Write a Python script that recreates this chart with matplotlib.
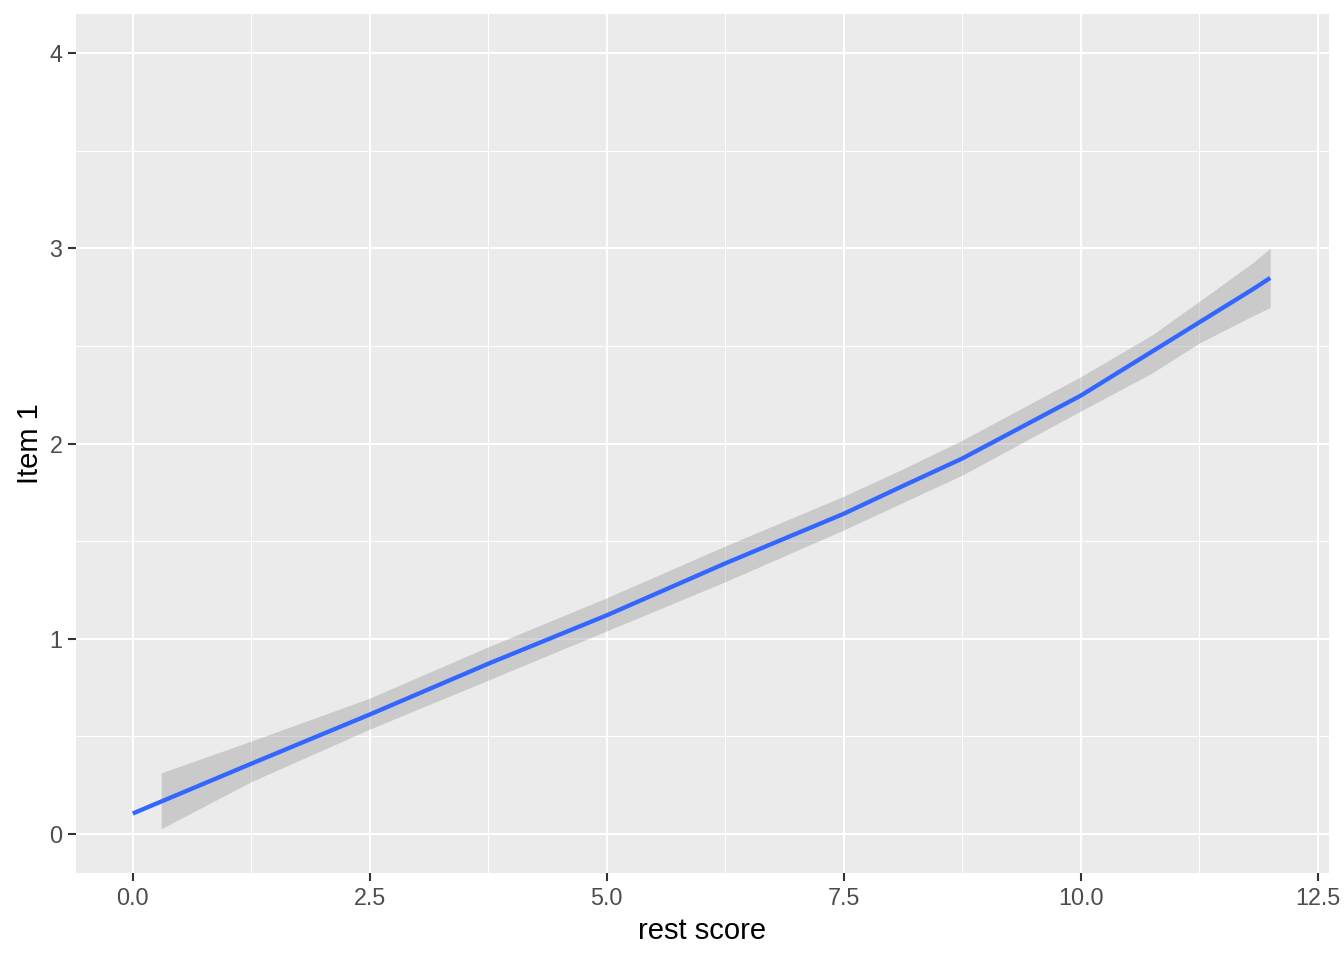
import matplotlib
matplotlib.use("Agg")
import matplotlib.pyplot as plt
from matplotlib.ticker import MultipleLocator

plt.rcParams['font.family'] = ['Liberation Sans', 'DejaVu Sans']

# fitted curve
line_x = [0, 1.25, 2.5, 3.75, 5, 6.25, 7.5, 8.1, 8.75, 10, 10.75, 11.25, 11.8, 12]
line_y = [0.105, 0.36, 0.612, 0.872, 1.12, 1.386, 1.64, 1.777, 1.923, 2.245, 2.47, 2.62, 2.785, 2.848]

# confidence band
band_x = [0.3, 1.25, 2.5, 3.75, 5, 6.25, 7.5, 8.1, 8.75, 10, 10.75, 11.25, 11.8, 12]
band_lo = [0.027, 0.268, 0.537, 0.788, 1.04, 1.292, 1.557, 1.692, 1.838, 2.166, 2.36, 2.514, 2.65, 2.697]
band_hi = [0.313, 0.476, 0.696, 0.959, 1.21, 1.475, 1.73, 1.864, 2.017, 2.342, 2.555, 2.728, 2.92, 3.0]

x_ticks = [0.0, 2.5, 5.0, 7.5, 10.0, 12.5]
x_labels = ["0.0", "2.5", "5.0", "7.5", "10.0", "12.5"]
y_ticks = [0, 1, 2, 3, 4]

fig = plt.figure(figsize=(13.44, 9.6), dpi=100)
ax = fig.add_axes([0.0565, 0.0906, 0.9323, 0.8948])
ax.set_facecolor('#EBEBEB')

ax.fill_between(band_x, band_lo, band_hi, color='#999999', alpha=0.4, linewidth=0, zorder=3)
ax.plot(line_x, line_y, color='#3366FF', linewidth=3.1, zorder=4, solid_capstyle='butt')

ax.set_xlim(-0.6, 12.62)
ax.set_ylim(-0.2, 4.2)
ax.set_xticks(x_ticks)
ax.set_xticklabels(x_labels)
ax.set_yticks(y_ticks)
ax.xaxis.set_minor_locator(MultipleLocator(1.25))
ax.yaxis.set_minor_locator(MultipleLocator(0.5))

ax.grid(which='major', color='white', linewidth=1.5, zorder=1)
ax.grid(which='minor', color='white', linewidth=0.75, zorder=1)
ax.set_axisbelow(True)

for s in ax.spines.values():
    s.set_visible(False)

ax.tick_params(which='major', length=5.8, width=1.5, color='#333333',
               labelsize=16.8, labelcolor='#4D4D4D', pad=4)
ax.tick_params(which='minor', length=0)

ax.set_xlabel("rest score", fontsize=21, color='black', labelpad=5)
ax.set_ylabel("Item 1", fontsize=21, color='black', labelpad=4)

fig.savefig("out.png", dpi=100, facecolor='white')
